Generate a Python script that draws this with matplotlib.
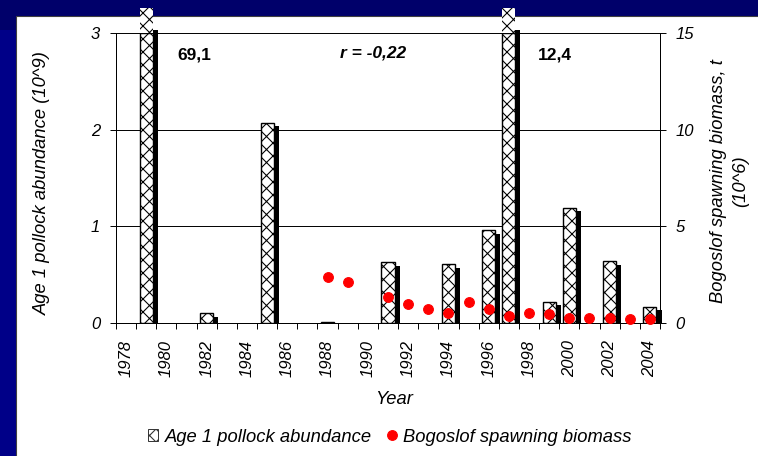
import numpy as np
import matplotlib
matplotlib.use("Agg")
import matplotlib.pyplot as plt
from matplotlib.patches import Rectangle, Patch
from matplotlib.lines import Line2D

# ---------------- data ----------------
years = list(range(1978, 2005))
abundance_years = [1979, 1982, 1985, 1988, 1991, 1994, 1996, 1997, 1999, 2000, 2002, 2004]
abundance_values = [69.1, 0.10, 2.07, 0.015, 0.63, 0.61, 0.96, 12.4, 0.22, 1.19, 0.64, 0.17]
biomass_years = [1988, 1989, 1991, 1992, 1993, 1994, 1995, 1996, 1997, 1998, 1999, 2000, 2001, 2002, 2003, 2004]
biomass_values = [2.36, 2.10, 1.33, 0.97, 0.71, 0.53, 1.07, 0.71, 0.36, 0.53, 0.45, 0.28, 0.28, 0.28, 0.19, 0.19]
tick_years = [str(y) for y in range(1978, 2005, 2)]
bar_notes = ["69,1", "12,4"]
r_note = "r = -0,22"

# ---------------- figure ----------------
plt.rcParams["font.family"] = ["Liberation Sans", "DejaVu Sans"]
plt.rcParams["hatch.linewidth"] = 1.0
DPI = 78
W, H = 759, 456
fig = plt.figure(figsize=(W / DPI, H / DPI), dpi=DPI)
fig.patch.set_facecolor("#000088")
fig.add_artist(Rectangle((0, 1 - 30 / H), 1, 30 / H, transform=fig.transFigure,
                         fc="#00006a", ec="none", zorder=-10))
fig.add_artist(Rectangle((16 / W, -0.01), 1, 1 - 16 / H + 0.01, transform=fig.transFigure,
                         fc="white", ec="#404040", lw=1.0, zorder=-9))

ax = fig.add_axes([116 / W, 1 - 323 / H, 544 / W, 290 / H])
ax.set_facecolor("none")
ax.set_xlim(-0.5, len(years) - 0.5)
ax.set_ylim(0, 3)
ax2 = ax.twinx()
ax2.set_ylim(0, 15)

xs = np.array([years.index(y) for y in abundance_years])
vals = np.array(abundance_values)
ymax = 3.0
cap_top = 3.257
bw = 0.65
off = 0.25
drop = 0.036

shadow_h = np.maximum(np.minimum(vals, 3.07) - drop, 0)
ax.bar(xs + off, shadow_h, width=bw, color="black", zorder=2, clip_on=False)
ax.bar(xs, np.minimum(vals, ymax), width=bw, facecolor="white", edgecolor="black",
       hatch="xx", lw=1.3, zorder=3)
broken = vals > ymax
ax.bar(xs[broken], cap_top - 2.995, bottom=2.995, width=bw, facecolor="white",
       edgecolor="black", hatch="xx", lw=0, zorder=4, clip_on=False)

bx = np.array([years.index(y) for y in biomass_years])
ax2.plot(bx, biomass_values, "o", color="red", ms=9.0, ls="none", zorder=5, clip_on=False)

# ticks
ax.set_xticks(np.arange(0, len(years), 2))
ax.set_xticklabels(tick_years, rotation=90, fontstyle="italic", fontsize=15.4)
ax.set_xticks(np.arange(-0.5, len(years), 1), minor=True)
ax.tick_params(axis="x", which="major", length=0, pad=15.5)
ax.tick_params(axis="x", which="minor", length=5.5, width=0.9, direction="out")
ax.set_yticks([0, 1, 2, 3])
ax.set_yticklabels(["0", "1", "2", "3"], fontstyle="italic", fontsize=15.4)
ax.tick_params(axis="y", length=5.5, width=0.9, direction="out", pad=9)
ax2.set_yticks([0, 5, 10, 15])
ax2.set_yticklabels(["0", "5", "10", "15"], fontstyle="italic", fontsize=15.4)
ax2.tick_params(axis="y", length=5.5, width=0.9, direction="out", pad=9)

ax.yaxis.grid(True, color="black", lw=0.9)
ax.set_axisbelow(True)
for a in (ax, ax2):
    a.spines["top"].set_visible(False)
    for s in ("left", "right", "bottom"):
        a.spines[s].set_linewidth(0.9)
        a.spines[s].set_color("black")

# texts
def fx(x):
    return x / W

def fy(y):
    return 1 - y / H

fig.text(fx(177), fy(54.5), bar_notes[0], fontsize=16, fontweight="bold", ha="left", va="center")
fig.text(fx(538), fy(54.5), bar_notes[1], fontsize=16, fontweight="bold", ha="left", va="center")
fig.text(fx(373), fy(52.5), r_note, fontsize=16, fontweight="bold", fontstyle="italic",
         ha="center", va="center")

fig.text(fx(42.5), fy(183), "Age 1 pollock abundance (10^9)", rotation=90, fontsize=17,
         fontstyle="italic", ha="center", va="center")
fig.text(fx(730), fy(181), "Bogoslof spawning biomass, t\n(10^6)", rotation=90, fontsize=17,
         fontstyle="italic", ha="center", va="center", multialignment="center", linespacing=1.4)
fig.text(fx(394), fy(400), "Year", fontsize=17, fontstyle="italic", ha="center", va="center")

handles = [Patch(facecolor="white", edgecolor="#333333", hatch="xx", lw=0.9),
           Line2D([], [], marker="o", color="red", ls="none", ms=9)]
fig.legend(handles, ["Age 1 pollock abundance", "Bogoslof spawning biomass"],
           loc="center", bbox_to_anchor=(fx(390), fy(437)), ncol=2, frameon=False,
           prop={"style": "italic", "size": 17}, handlelength=0.55, handleheight=0.55,
           handletextpad=0.35, columnspacing=0.8)

fig.savefig("out.png", dpi=DPI, facecolor=fig.get_facecolor())
